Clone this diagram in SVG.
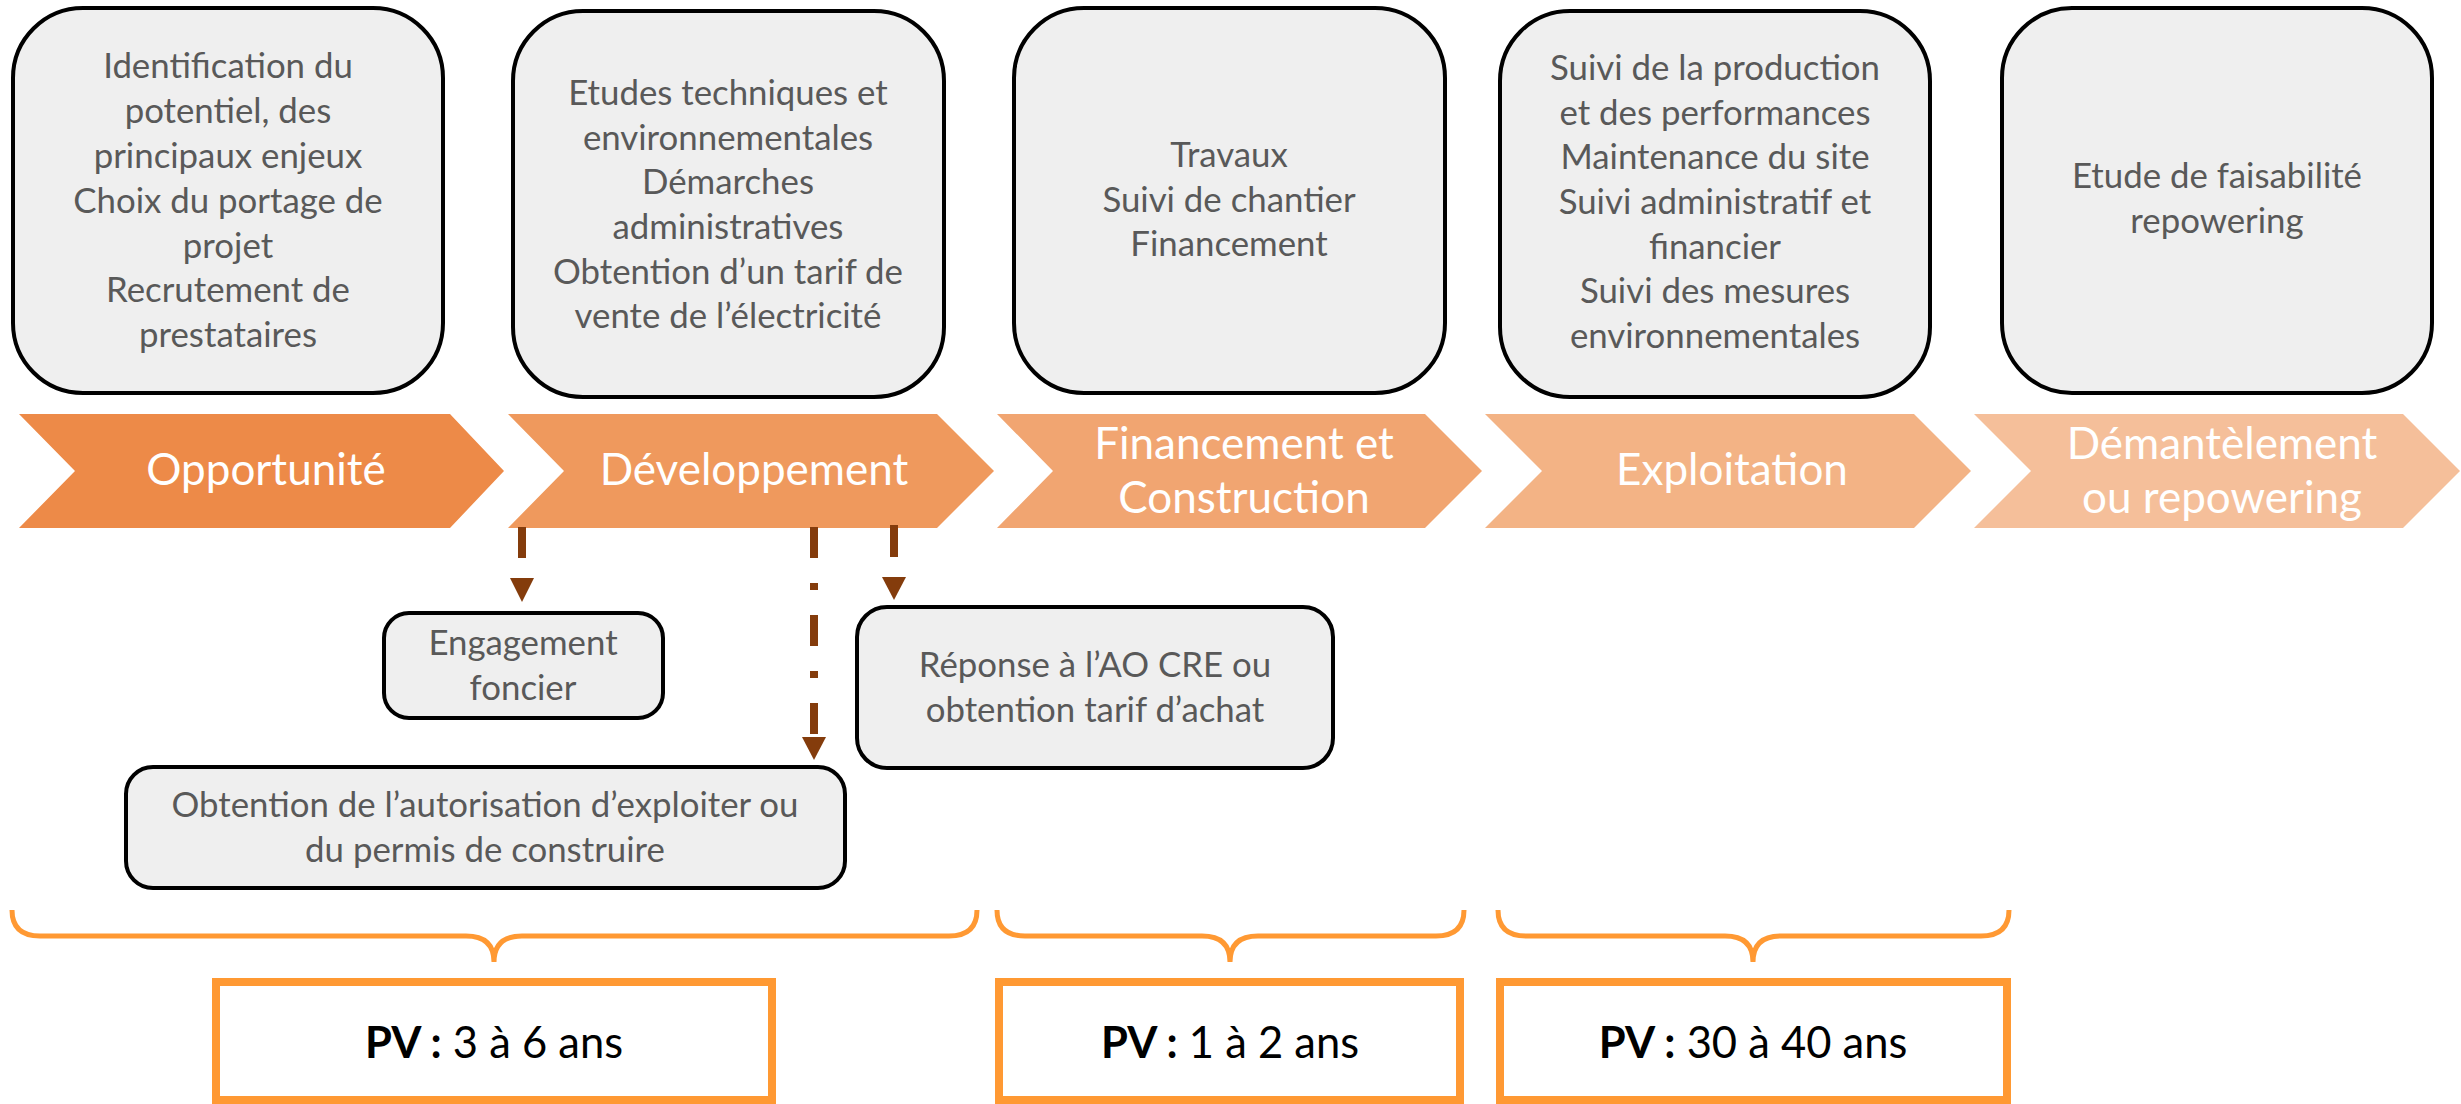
<svg xmlns="http://www.w3.org/2000/svg" width="2461" height="1104" viewBox="0 0 2461 1104">
<defs>
<style>
.big{fill:#efefef;stroke:#000;stroke-width:4}
.small{fill:#efefef;stroke:#000;stroke-width:4}
.bt{font-family:Lato,"Liberation Sans",sans-serif;font-size:34.8px;fill:#595959;text-anchor:middle}
.ct{font-family:Lato,"Liberation Sans",sans-serif;font-size:44px;fill:#fff;text-anchor:middle}
.pv{font-family:Lato,"Liberation Sans",sans-serif;font-size:43.5px;fill:#000;text-anchor:middle}
.brace{fill:none;stroke:#ff9933;stroke-width:5}
.pvbox{fill:#fff;stroke:#ff9933;stroke-width:8}
.conn{fill:none;stroke:#843c0c;stroke-width:8}
.head{fill:#843c0c}
</style>
</defs>
<rect width="2461" height="1104" fill="#fff"/>

<g id="box-opportunite">
<rect class="big" x="13" y="8" width="430" height="385" rx="70" ry="70"/>
<text class="bt"><tspan x="228" y="78">Identification du</tspan><tspan x="228" y="123">potentiel, des</tspan><tspan x="228" y="168">principaux enjeux</tspan><tspan x="228" y="213">Choix du portage de</tspan><tspan x="228" y="258">projet</tspan><tspan x="228" y="302">Recrutement de</tspan><tspan x="228" y="347">prestataires</tspan></text>
</g>
<g id="box-developpement">
<rect class="big" x="513" y="11" width="431" height="386" rx="70" ry="70"/>
<text class="bt"><tspan x="728" y="105">Etudes techniques et</tspan><tspan x="728" y="150">environnementales</tspan><tspan x="728" y="194">Démarches</tspan><tspan x="728" y="239">administratives</tspan><tspan x="728" y="284">Obtention d’un tarif de</tspan><tspan x="728" y="328">vente de l’électricité</tspan></text>
</g>
<g id="box-construction">
<rect class="big" x="1014" y="8" width="431" height="385" rx="70" ry="70"/>
<text class="bt"><tspan x="1229" y="167">Travaux</tspan><tspan x="1229" y="212">Suivi de chantier</tspan><tspan x="1229" y="256">Financement</tspan></text>
</g>
<g id="box-exploitation">
<rect class="big" x="1500" y="11" width="430" height="386" rx="70" ry="70"/>
<text class="bt"><tspan x="1715" y="80">Suivi de la production</tspan><tspan x="1715" y="125">et des performances</tspan><tspan x="1715" y="169">Maintenance du site</tspan><tspan x="1715" y="214">Suivi administratif et</tspan><tspan x="1715" y="259">financier</tspan><tspan x="1715" y="303">Suivi des mesures</tspan><tspan x="1715" y="348">environnementales</tspan></text>
</g>
<g id="box-repowering">
<rect class="big" x="2002" y="8" width="430" height="385" rx="70" ry="70"/>
<text class="bt"><tspan x="2217" y="188">Etude de faisabilité</tspan><tspan x="2217" y="233">repowering</tspan></text>
</g>

<g id="chevron-opportunite">
<polygon fill="#ed8a48" points="19,414 450,414 504,471 450,528 19,528 75,471"/>
<text class="ct" x="266" y="485">Opportunité</text>
</g>
<g id="chevron-developpement">
<polygon fill="#ef995d" points="508,414 937,414 994,471 937,528 508,528 564,471"/>
<text class="ct" x="754" y="485">Développement</text>
</g>
<g id="chevron-construction">
<polygon fill="#f1a571" points="997,414 1425,414 1482,471 1425,528 997,528 1053,471"/>
<text class="ct"><tspan x="1244" y="459">Financement et</tspan><tspan x="1244" y="513">Construction</tspan></text>
</g>
<g id="chevron-exploitation">
<polygon fill="#f3b385" points="1485,414 1914,414 1971,471 1914,528 1485,528 1542,471"/>
<text class="ct" x="1732" y="485">Exploitation</text>
</g>
<g id="chevron-demantelement">
<polygon fill="#f5bf9a" points="1974,414 2403,414 2460,471 2403,528 1974,528 2031,471"/>
<text class="ct"><tspan x="2222" y="459">Démantèlement</tspan><tspan x="2222" y="513">ou repowering</tspan></text>
</g>

<g id="box-engagement">
<rect class="small" x="384" y="613" width="279" height="105" rx="25" ry="25"/>
<text class="bt"><tspan x="523" y="655">Engagement</tspan><tspan x="523" y="700">foncier</tspan></text>
</g>
<g id="box-reponse">
<rect class="small" x="857" y="607" width="476" height="161" rx="30" ry="30"/>
<text class="bt"><tspan x="1095" y="677">Réponse à l’AO CRE ou</tspan><tspan x="1095" y="722">obtention tarif d’achat</tspan></text>
</g>
<g id="box-obtention">
<rect class="small" x="126" y="767" width="719" height="121" rx="27" ry="27"/>
<text class="bt"><tspan x="485" y="817">Obtention de l’autorisation d’exploiter ou</tspan><tspan x="485" y="862">du permis de construire</tspan></text>
</g>

<g id="connectors">
<line class="conn" x1="522" y1="527" x2="522" y2="558"/>
<polygon class="head" points="510,578 534,578 522,602"/>
<line class="conn" x1="814" y1="527" x2="814" y2="735" stroke-dasharray="31 25 7 25"/>
<polygon class="head" points="802,737 826,737 814,760"/>
<line class="conn" x1="894" y1="525" x2="894" y2="557"/>
<polygon class="head" points="882,577 906,577 894,600"/>
</g>

<g id="brace-1">
<path class="brace" d="M12,910 Q12,936 40,936 H466 Q494,936 494,962 Q494,936 522,936 H949 Q977,936 977,910"/>
</g>
<g id="brace-2">
<path class="brace" d="M997,910 Q997,936 1025,936 H1202 Q1230,936 1230,962 Q1230,936 1258,936 H1436 Q1464,936 1464,910"/>
</g>
<g id="brace-3">
<path class="brace" d="M1498,910 Q1498,936 1526,936 H1725 Q1753,936 1753,962 Q1753,936 1781,936 H1981 Q2009,936 2009,910"/>
</g>

<g id="pv-1">
<rect class="pvbox" x="216" y="982" width="556" height="118"/>
<text class="pv" x="494" y="1058"><tspan font-weight="bold">PV :</tspan> 3 à 6 ans</text>
</g>
<g id="pv-2">
<rect class="pvbox" x="999" y="982" width="461" height="118"/>
<text class="pv" x="1230" y="1058"><tspan font-weight="bold">PV :</tspan> 1 à 2 ans</text>
</g>
<g id="pv-3">
<rect class="pvbox" x="1500" y="982" width="507" height="118"/>
<text class="pv" x="1753" y="1058"><tspan font-weight="bold">PV :</tspan> 30 à 40 ans</text>
</g>
</svg>
